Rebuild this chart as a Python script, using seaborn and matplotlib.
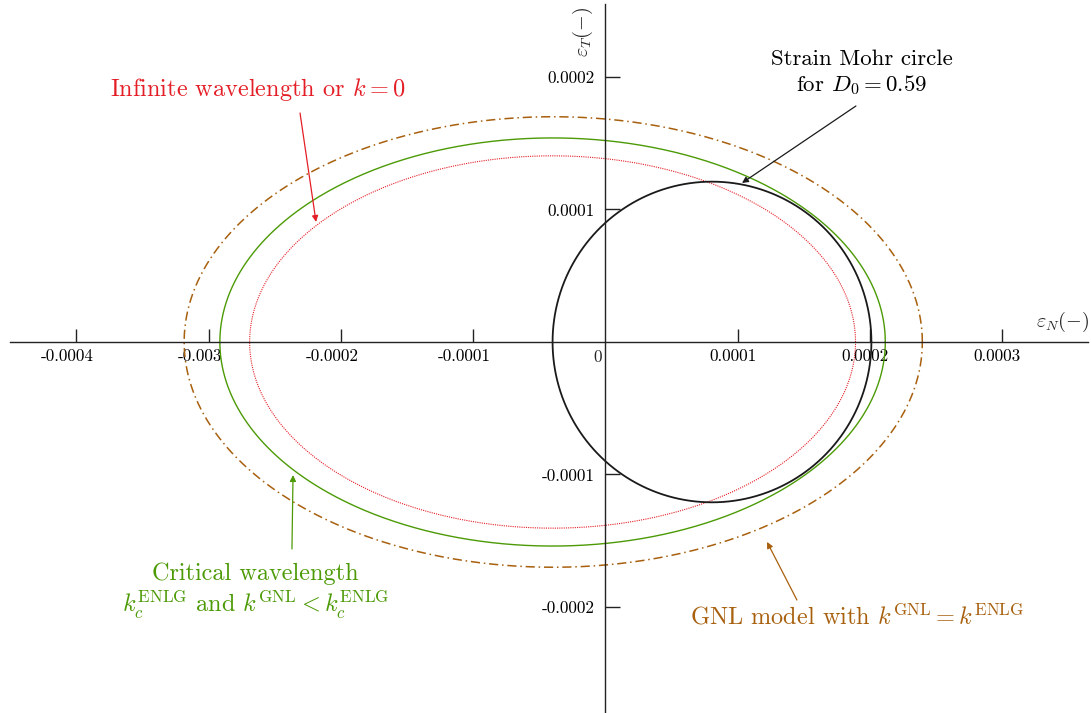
import numpy as np
import pandas as pd
import seaborn as sns
import matplotlib.pyplot as plt
from matplotlib.transforms import ScaledTranslation

# curves: brown GNL (k=kENLG), green critical, red infinite wavelength, black Mohr circle
curve_names = ["gnl", "critical", "infinite", "mohr"]
center_x = [-0.395e-4, -0.40e-4, -0.40e-4, 0.805e-4]
semi_x = [2.79e-4, 2.515e-4, 2.29e-4, 1.205e-4]
semi_y = [1.70e-4, 1.54e-4, 1.405e-4, 1.21e-4]

xtick_values = [-4e-4, -3e-4, -2e-4, -1e-4, 1e-4, 2e-4, 3e-4]
xtick_labels = ["-0.0004", "-0.003", "-0.0002", "-0.0001", "0.0001", "0.0002", "0.0003"]
ytick_values = [-2e-4, -1e-4, 1e-4, 2e-4]
ytick_labels = ["-0.0002", "-0.0001", "0.0001", "0.0002"]

sns.set_theme(style="white")
plt.rcParams["font.family"] = "serif"
plt.rcParams["font.serif"] = ["cmr10", "DejaVu Serif"]
plt.rcParams["mathtext.fontset"] = "cm"
plt.rcParams["axes.unicode_minus"] = False
plt.rcParams["axes.formatter.use_mathtext"] = True

red = "#e41e26"
green = "#4c9a06"
brown = "#a8600e"
styles = {
    "gnl": dict(color=brown, lw=1.1, ls=(0, (6, 2.5, 1, 2.5))),
    "critical": dict(color=green, lw=1.0, ls="-"),
    "infinite": dict(color=red, lw=0.8, ls=(0, (1, 1))),
    "mohr": dict(color="#1a1a1a", lw=1.3, ls="-"),
}

theta = np.linspace(0, 2 * np.pi, 721)
frames = []
for name, cx, a, b in zip(curve_names, center_x, semi_x, semi_y):
    frames.append(pd.DataFrame({"curve": name, "x": cx + a * np.cos(theta), "y": b * np.sin(theta)}))
df = pd.concat(frames, ignore_index=True)

fig = plt.figure(figsize=(10.91, 7.13), dpi=100)
ax = fig.add_axes([0, 0, 1, 1])

for name in curve_names:
    st = styles[name]
    sns.lineplot(data=df[df.curve == name], x="x", y="y", sort=False, estimator=None,
                 color=st["color"], linewidth=st["lw"], linestyle=st["ls"], ax=ax)

ax.set_xlim(-4.577e-4, 3.670e-4)
ax.set_ylim(-2.800e-4, 2.581e-4)

# axes through origin
ax.spines["right"].set_visible(False)
ax.spines["top"].set_visible(False)
ax.spines["bottom"].set_position(("data", 0))
ax.spines["left"].set_position(("data", 0))
ax.spines["bottom"].set_bounds(-4.50e-4, 3.65e-4)
ax.spines["left"].set_bounds(-2.80e-4, 2.55e-4)
for sp in ["bottom", "left"]:
    ax.spines[sp].set_color("#222222")
    ax.spines[sp].set_linewidth(1.0)

ax.set_xticks(xtick_values)
ax.set_xticklabels(xtick_labels)
ax.set_yticks(ytick_values)
ax.set_yticklabels(ytick_labels)
ax.tick_params(axis="x", bottom=True, direction="in", length=9.5, width=1, pad=5, labelsize=12.3,
               color="#222222", labelcolor="black")
ax.tick_params(axis="y", left=True, direction="in", length=11, width=1, pad=8, labelsize=12.3,
               color="#222222", labelcolor="black")
ax.set_xlabel("")
ax.set_ylabel("")

# x labels sit a little left of their ticks in the original
for lab in ax.get_xticklabels():
    dx = -9 if lab.get_text().startswith("-") else -5
    lab.set_transform(lab.get_transform() + ScaledTranslation(dx / 100, 0, fig.dpi_scale_trans))

ax.text(-0.03e-4, -0.06e-4, "0", ha="right", va="top", fontsize=12.3)
ax.text(3.66e-4, 0.06e-4, r"$\varepsilon_N(-)$", ha="right", va="bottom", fontsize=14.5)
ax.text(-0.08e-4, 2.53e-4, r"$\varepsilon_T(-)$", ha="right", va="top", rotation=90, fontsize=14.5)

arrow = dict(arrowstyle="-|>", mutation_scale=9, lw=0.9, shrinkA=0, shrinkB=0)

ax.text(-2.627e-4, 1.902e-4, r"Infinite wavelength or $k = 0$", color=red, fontsize=17.5, ha="center", va="center")
ax.annotate("", xy=(-2.188e-4, 0.906e-4), xytext=(-2.309e-4, 1.728e-4), arrowprops=dict(arrow, color=red))

ax.text(1.939e-4, 2.030e-4, "Strain Mohr circle\nfor $D_0 = 0.59$", color="black", fontsize=16.5,
        ha="center", va="center", multialignment="center", linespacing=1.2)
ax.annotate("", xy=(1.032e-4, 1.200e-4), xytext=(1.893e-4, 1.781e-4), arrowprops=dict(arrow, color="#1a1a1a"))

ax.text(-2.645e-4, -1.885e-4, "Critical wavelength\n" + r"$k_c^{\mathrm{ENLG}}$ and $k^{\mathrm{GNL}} < k_c^{\mathrm{ENLG}}$",
        color=green, fontsize=17.5, ha="center", va="center", multialignment="center", linespacing=1.15)
ax.annotate("", xy=(-2.362e-4, -1.004e-4), xytext=(-2.370e-4, -1.562e-4), arrowprops=dict(arrow, color=green))

ax.text(1.901e-4, -2.075e-4, r"GNL model with $k^{\mathrm{GNL}} = k^{\mathrm{ENLG}}$", color=brown, fontsize=17.5,
        ha="center", va="center")
ax.annotate("", xy=(1.221e-4, -1.509e-4), xytext=(1.447e-4, -1.947e-4), arrowprops=dict(arrow, color=brown))

fig.savefig("out.png", dpi=100)
